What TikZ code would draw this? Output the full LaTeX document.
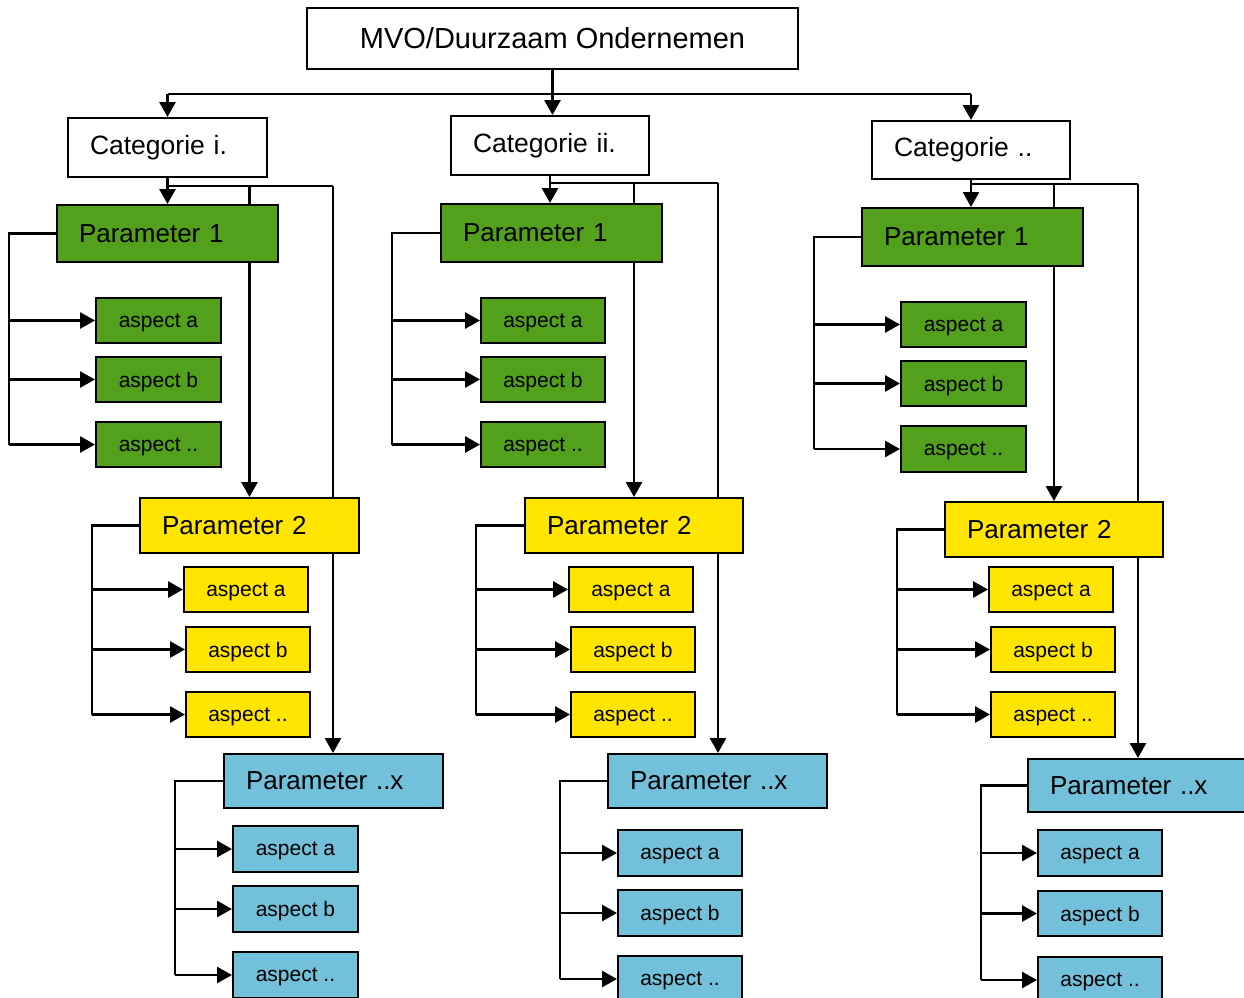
\documentclass[tikz,border=0pt]{standalone}
\usepackage{fontspec}
\setmainfont{Liberation Sans}
\usetikzlibrary{arrows.meta,calc}
\pgfdeclarelayer{background}
\pgfsetlayers{background,main}
\definecolor{pgreen}{HTML}{52A01C}
\definecolor{pyellow}{HTML}{FFE500}
\definecolor{pblue}{HTML}{72C0DA}
\tikzset{
  base/.style={draw=black, line width=2pt, inner ysep=0pt},
  leftbox/.style={base, text width=\bxt pt, inner xsep=22pt, align=left},
  topbox/.style={base, font=\fontsize{29}{33}\selectfont, align=center},
  catbox/.style={leftbox, fill=white, font=\fontsize{26.5}{30}\selectfont},
  parbox/.style={leftbox, font=\fontsize{26}{30}\selectfont},
  aspbox/.style={base, inner xsep=2pt, align=center, text depth=0pt, font=\fontsize{21}{24}\selectfont},
  conn/.style={line width=2.8pt, draw=black},
  arr/.style={conn, -{Triangle[length=15pt,width=16pt]}},
}
\newcommand\mybox[7]{%
  \pgfmathsetmacro\bxw{#5-#3}%
  \pgfmathsetmacro\bxh{#6-#4}%
  \pgfmathsetmacro\bxt{#5-#3-44}%
  \node[#2, minimum width=\bxw pt, minimum height=\bxh pt] (#1) at ({(#3+#5)/2},{(#4+#6)/2}) {#7};%
}
\begin{document}
\begin{tikzpicture}[x=1pt,y=-1pt]
\useasboundingbox (0,0) rectangle (1244,997);

\mybox{mvo}{topbox}{307}{8}{798}{69}{MVO/Duurzaam Ondernemen}

% ---------- column 1 ----------
\mybox{catA}{catbox}{68}{118}{267}{177}{Categorie i.}
\mybox{pA1}{parbox, fill=pgreen}{57}{205}{278}{262}{Parameter 1}
\mybox{aA1a}{aspbox, fill=pgreen}{96}{298}{221}{343}{aspect a}
\mybox{aA1b}{aspbox, fill=pgreen}{96}{357}{221}{402}{aspect b}
\mybox{aA1c}{aspbox, fill=pgreen}{96}{422}{221}{467}{aspect ..}
\mybox{pA2}{parbox, fill=pyellow}{140}{498}{359}{553}{Parameter 2}
\mybox{aA2a}{aspbox, fill=pyellow}{184}{567}{308}{612}{aspect a}
\mybox{aA2b}{aspbox, fill=pyellow}{186}{627}{310}{672}{aspect b}
\mybox{aA2c}{aspbox, fill=pyellow}{186}{692}{310}{737}{aspect ..}
\mybox{pAx}{parbox, fill=pblue}{224}{754}{443}{808}{Parameter ..x}
\mybox{aAxa}{aspbox, fill=pblue}{233}{826}{358}{872}{aspect a}
\mybox{aAxb}{aspbox, fill=pblue}{233}{886}{358}{932}{aspect b}
\mybox{aAxc}{aspbox, fill=pblue}{233}{952}{358}{998}{aspect ..}

% ---------- column 2 ----------
\mybox{catB}{catbox}{451}{116}{649}{175}{Categorie ii.}
\mybox{pB1}{parbox, fill=pgreen}{441}{204}{662}{262}{Parameter 1}
\mybox{aB1a}{aspbox, fill=pgreen}{481}{298}{605}{343}{aspect a}
\mybox{aB1b}{aspbox, fill=pgreen}{481}{357}{605}{402}{aspect b}
\mybox{aB1c}{aspbox, fill=pgreen}{481}{422}{605}{467}{aspect ..}
\mybox{pB2}{parbox, fill=pyellow}{525}{498}{743}{553}{Parameter 2}
\mybox{aB2a}{aspbox, fill=pyellow}{569}{567}{693}{612}{aspect a}
\mybox{aB2b}{aspbox, fill=pyellow}{571}{627}{695}{672}{aspect b}
\mybox{aB2c}{aspbox, fill=pyellow}{571}{692}{695}{737}{aspect ..}
\mybox{pBx}{parbox, fill=pblue}{608}{754}{827}{808}{Parameter ..x}
\mybox{aBxa}{aspbox, fill=pblue}{618}{830}{742}{876}{aspect a}
\mybox{aBxb}{aspbox, fill=pblue}{618}{890}{742}{936}{aspect b}
\mybox{aBxc}{aspbox, fill=pblue}{618}{956}{742}{1002}{aspect ..}

% ---------- column 3 ----------
\mybox{catC}{catbox}{872}{121}{1070}{179}{Categorie ..}
\mybox{pC1}{parbox, fill=pgreen}{862}{208}{1083}{266}{Parameter 1}
\mybox{aC1a}{aspbox, fill=pgreen}{901}{302}{1026}{347}{aspect a}
\mybox{aC1b}{aspbox, fill=pgreen}{901}{361}{1026}{406}{aspect b}
\mybox{aC1c}{aspbox, fill=pgreen}{901}{426}{1026}{472}{aspect ..}
\mybox{pC2}{parbox, fill=pyellow}{945}{502}{1163}{557}{Parameter 2}
\mybox{aC2a}{aspbox, fill=pyellow}{989}{567}{1113}{612}{aspect a}
\mybox{aC2b}{aspbox, fill=pyellow}{991}{627}{1115}{672}{aspect b}
\mybox{aC2c}{aspbox, fill=pyellow}{991}{692}{1115}{737}{aspect ..}
\mybox{pCx}{parbox, fill=pblue}{1028}{759}{1247}{812}{Parameter ..x}
\mybox{aCxa}{aspbox, fill=pblue}{1038}{830}{1162}{876}{aspect a}
\mybox{aCxb}{aspbox, fill=pblue}{1038}{891}{1162}{936}{aspect b}
\mybox{aCxc}{aspbox, fill=pblue}{1038}{957}{1162}{1003}{aspect ..}

% ---------- junction coordinates ----------
\coordinate (mj) at (552,94);
\coordinate (jA) at (333,186);
\coordinate (jB) at (718,183);
\coordinate (jC) at (1138,184);
\coordinate (bA1) at (9,0);   \coordinate (bA2) at (92,0);  \coordinate (bAx) at (175,0);
\coordinate (bB1) at (392,0); \coordinate (bB2) at (476,0); \coordinate (bBx) at (560,0);
\coordinate (bC1) at (814,0); \coordinate (bC2) at (897,0); \coordinate (bCx) at (981,0);

\begin{pgfonlayer}{background}
  % top level
  \draw[arr] (mvo.south) -- (mvo.south |- catB.north);
  \draw[conn] (catA.north |- mj) -- (catC.north |- mj);
  \draw[arr] (catA.north |- mj) -- (catA.north);
  \draw[arr] (catC.north |- mj) -- (catC.north);

  % category level
  \foreach \c in {A,B,C}{
    \draw[arr] (cat\c.south) -- (cat\c.south |- p\c1.north);
    \draw[conn] (cat\c.south |- j\c) -- (j\c);
    \draw[arr] (p\c2.north |- j\c) -- (p\c2.north);
    \draw[arr] (j\c) -- (j\c |- p\c x.north);
  }

  % brackets to aspects
  \foreach \c in {A,B,C}{
    \foreach \p in {1,2,x}{
      \draw[conn] (p\c\p.west) -| (b\c\p |- a\c\p c.west);
      \foreach \s in {a,b,c}{
        \draw[arr] (b\c\p |- a\c\p\s.west) -- (a\c\p\s.west);
      }
    }
  }
\end{pgfonlayer}
\end{tikzpicture}
\end{document}
